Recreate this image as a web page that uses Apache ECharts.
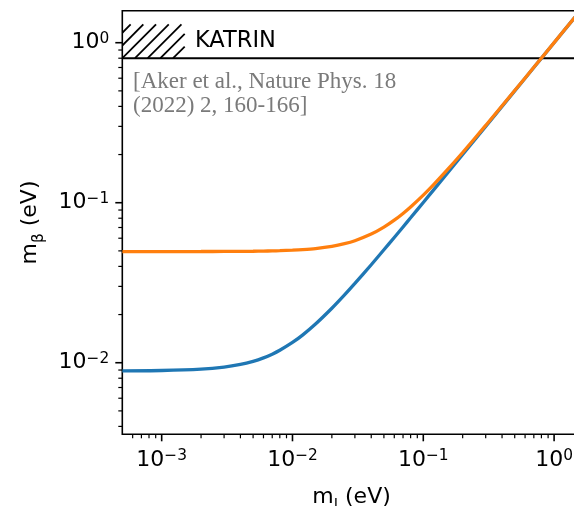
<!DOCTYPE html>
<html>
<head>
<meta charset="utf-8">
<script src="https://cdn.jsdelivr.net/npm/echarts@6/dist/echarts.min.js"></script>
<style>
  html, body { margin: 0; padding: 0; background: #fff; }
  #chart { width: 574px; height: 506px; }
</style>
</head>
<body>
<div id="chart"></div>
<script>
// Lightest neutrino mass m_l (eV)
const lightestMass = [5e-4, 1e-3, 2e-3, 3e-3, 4e-3, 5e-3, 6e-3, 7e-3, 8e-3, 1e-2,
  1.2e-2, 1.5e-2, 2e-2, 2.5e-2, 3e-2, 4e-2, 5e-2, 6e-2, 7e-2, 8e-2,
  0.1, 0.12, 0.15, 0.2, 0.3, 0.5, 0.7, 1.0, 1.5, 2.0];

// Effective electron-neutrino mass m_beta (eV), normal ordering
const mBetaNormal = [0.00890, 0.00894, 0.00911, 0.00938, 0.00975, 0.01020, 0.01072, 0.01131, 0.01196, 0.01338,
  0.01493, 0.01744, 0.02189, 0.02653, 0.03129, 0.04098, 0.05078, 0.06065, 0.07056, 0.08049,
  0.10039, 0.12033, 0.15026, 0.2002, 0.3001, 0.5001, 0.7001, 1.0000, 1.5000, 2.0000];

// Effective electron-neutrino mass m_beta (eV), inverted ordering
const mBetaInverted = [0.04950, 0.04951, 0.04954, 0.04959, 0.04966, 0.04975, 0.04986, 0.04999, 0.05014, 0.05050,
  0.05093, 0.05172, 0.05339, 0.05545, 0.05788, 0.06364, 0.07036, 0.07778, 0.08573, 0.09407,
  0.11158, 0.12981, 0.15796, 0.20603, 0.30406, 0.50244, 0.70175, 1.00122, 1.50082, 2.00061];

// KATRIN upper limit and the hatched excluded patch next to its label
const katrinLimit = 0.8;
const katrinPatchMass = [5e-4, 1.5e-3];
const katrinPatchBeta = [0.8, 1.3];

const xRange = [5e-4, 1.6];
const yRange = [0.00357, 1.585];
const xMajorTicks = [1e-3, 1e-2, 1e-1, 1];
const yMajorTicks = [1e-2, 1e-1, 1];

const katrinLabel = 'KATRIN';
const citation = ['[Aker et al., Nature Phys. 18', '(2022) 2, 160-166]'];

const FONT = '"DejaVu Sans", sans-serif';

function minorTicks(range) {
  const out = [];
  const e0 = Math.floor(Math.log10(range[0]));
  const e1 = Math.ceil(Math.log10(range[1]));
  for (let e = e0; e <= e1; e++) {
    for (let m = 2; m <= 9; m++) {
      const v = m * Math.pow(10, e);
      if (v > range[0] && v < range[1]) out.push(v);
    }
  }
  return out;
}

function powerLabel(v) {
  const e = Math.round(Math.log10(v));
  if (Math.abs(Math.log10(v) - e) > 1e-6) return '';
  return '{b|10}{s|' + (e < 0 ? '\u2212' + (-e) : String(e)) + '}';
}

const tickRich = {
  b: { fontFamily: FONT, fontSize: 22, lineHeight: 22, height: 22, color: '#000' },
  s: { fontFamily: FONT, fontSize: 15.4, lineHeight: 14, height: 14, verticalAlign: 'top', color: '#000' }
};
const nameRich = {
  b: { fontFamily: FONT, fontSize: 22, lineHeight: 22, height: 22, color: '#000' },
  s: { fontFamily: FONT, fontSize: 15.4, lineHeight: 5, height: 5, verticalAlign: 'bottom', color: '#000' }
};

// Short tick strokes placed through the axis scales
function tickSeries(values, axis, len, width) {
  return {
    type: 'custom',
    clip: false,
    silent: true,
    z: 6,
    data: values.map(v => axis === 'x' ? [v, yRange[0]] : [xRange[0], v]),
    encode: { x: 0, y: 1 },
    renderItem(params, api) {
      const p = api.coord([api.value(0), api.value(1)]);
      const shape = axis === 'x'
        ? { x1: p[0], y1: p[1], x2: p[0], y2: p[1] + len }
        : { x1: p[0], y1: p[1], x2: p[0] - len, y2: p[1] };
      return { type: 'line', shape, style: { stroke: '#000', lineWidth: width } };
    }
  };
}

// Diagonal hatching inside the KATRIN patch
const hatchSeries = {
  type: 'custom',
  clip: true,
  silent: true,
  z: 3,
  data: [[katrinPatchMass[0], katrinPatchBeta[0], katrinPatchMass[1], katrinPatchBeta[1]]],
  encode: { x: [0, 2], y: [1, 3] },
  renderItem(params, api) {
    const a = api.coord([api.value(0), api.value(1)]);
    const b = api.coord([api.value(2), api.value(3)]);
    const x0 = a[0], x1 = b[0], yTop = b[1], yBot = a[1];
    const step = 12.7;
    const cMin = x0 + yTop, cMax = x1 + yBot;
    let c = (x0 + yBot) - Math.floor(((x0 + yBot) - cMin) / step) * step;
    const children = [];
    for (; c <= cMax; c += step) {
      const ya = Math.max(yTop, c - x1);
      const yb = Math.min(yBot, c - x0);
      if (yb - ya > 0.5) {
        children.push({
          type: 'line',
          shape: { x1: c - ya, y1: ya, x2: c - yb, y2: yb },
          style: { stroke: '#000', lineWidth: 1.8 }
        });
      }
    }
    return { type: 'group', children };
  }
};

const chart = echarts.init(document.getElementById('chart'), null, { renderer: 'canvas' });

chart.setOption({
  animation: false,
  backgroundColor: '#fff',
  grid: {
    left: 122.3, top: 10.7, width: 458.5, height: 423.6,
    show: true, borderColor: '#000', borderWidth: 1.6, backgroundColor: 'transparent',
    containLabel: false, outerBoundsMode: 'none'
  },
  xAxis: {
    type: 'log', logBase: 10, min: xRange[0], max: xRange[1],
    axisLine: { show: false }, axisTick: { show: false }, splitLine: { show: false },
    axisLabel: { formatter: powerLabel, margin: 15.1, rich: tickRich },
    name: '{b|m}{s|l}{b| (eV)}', nameLocation: 'middle', nameGap: 52.1,
    nameTextStyle: { rich: nameRich }
  },
  yAxis: {
    type: 'log', logBase: 10, min: yRange[0], max: yRange[1],
    axisLine: { show: false }, axisTick: { show: false }, splitLine: { show: false },
    axisLabel: { formatter: powerLabel, margin: 13, rich: tickRich },
    name: '{b|m}{s|\u03b2}{b| (eV)}', nameLocation: 'middle', nameGap: 81.3,
    nameTextStyle: { rich: nameRich }
  },
  series: [
    hatchSeries,
    {
      type: 'line', name: 'KATRIN', showSymbol: false, silent: true, z: 3,
      data: [[xRange[0], katrinLimit], [2, katrinLimit]],
      lineStyle: { color: '#000', width: 2 }
    },
    {
      type: 'line', name: 'NO', showSymbol: false, smooth: 0.3, z: 4,
      data: lightestMass.map((m, i) => [m, mBetaNormal[i]]),
      lineStyle: { color: '#1f77b4', width: 3.3 }
    },
    {
      type: 'line', name: 'IO', showSymbol: false, smooth: 0.3, z: 4,
      data: lightestMass.map((m, i) => [m, mBetaInverted[i]]),
      lineStyle: { color: '#ff7f0e', width: 3.3 }
    },
    tickSeries(xMajorTicks, 'x', 7, 1.6),
    tickSeries(minorTicks(xRange), 'x', 4, 1.2),
    tickSeries(yMajorTicks, 'y', 7, 1.6),
    tickSeries(minorTicks(yRange), 'y', 4, 1.2)
  ],
  graphic: [
    {
      type: 'text', left: 195, top: 30, z: 10,
      style: { text: katrinLabel, font: '22.5px ' + FONT, fill: '#000', lineHeight: 22 }
    },
    {
      type: 'text', left: 133, top: 69.5, z: 10,
      style: { text: citation.join('\n'), font: '23px "Liberation Serif", serif', fill: '#7a7a7a', lineHeight: 24 }
    }
  ]
});
</script>
</body>
</html>
